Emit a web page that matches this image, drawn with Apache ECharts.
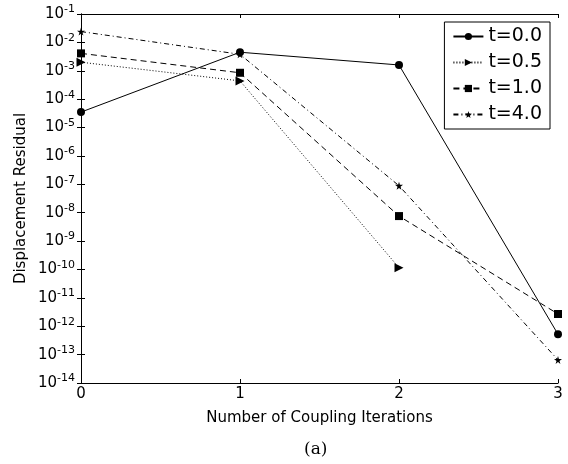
<!DOCTYPE html>
<html>
<head>
<meta charset="utf-8">
<script src="https://cdn.jsdelivr.net/npm/echarts@6/dist/echarts.min.js"></script>
<style>
  html, body { margin: 0; padding: 0; background: #fff; }
  #chart { width: 568px; height: 464px; }
</style>
</head>
<body>
<div id="chart"></div>
<script>
// 迭代次数
var iterations = [0, 1, 2, 3];
var xTicks = [0, 1, 2, 3];

// 各时刻的位移残差
var t00 = [3.5e-5, 4.5e-3, 1.6e-3, 5.2e-13];
var t05 = [2.0e-3, 4.4e-4, 1.15e-10];
var t10 = [4.1e-3, 8.5e-4, 7.6e-9, 2.7e-12];
var t40 = [2.4e-2, 3.8e-3, 8.9e-8, 6.5e-14];

var seriesNames = ["t=0.0", "t=0.5", "t=1.0", "t=4.0"];

var starPath = "path://M50,0 L61,35 L98,35 L68,57 L79,91 L50,70 L21,91 L32,57 L2,35 L39,35 Z";
var font = "DejaVu Sans";

function pairs(vals) {
  return vals.map(function (v, i) { return [iterations[i], v]; });
}

function supLabel(value) {
  var e = Math.round(Math.log10(value));
  return "{b|10}{s|" + e + "}";
}

var chart = echarts.init(document.getElementById("chart"));

var lineBase = { color: "#000", width: 1 };

chart.setOption({
  animation: false,
  backgroundColor: "#fff",
  textStyle: { fontFamily: font, color: "#000" },
  grid: { left: 81, right: 10, top: 14, bottom: 81 },
  legend: {
    orient: "vertical",
    right: 18,
    top: 22,
    data: seriesNames,
    borderColor: "#000",
    borderWidth: 1,
    padding: [5, 8, 5, 8],
    itemGap: 7,
    itemWidth: 30,
    itemHeight: 9,
    textStyle: { fontFamily: font, fontSize: 19, color: "#000" }
  },
  xAxis: [{
    type: "value",
    min: 0, max: 3, interval: 1,
    name: "Number of Coupling Iterations",
    nameLocation: "middle",
    nameGap: 28,
    nameTextStyle: { fontFamily: font, fontSize: 15, color: "#000" },
    axisLine: { show: true, lineStyle: { color: "#000" } },
    axisTick: { inside: true, length: 4, lineStyle: { color: "#000" } },
    axisLabel: { fontFamily: font, fontSize: 15, color: "#000", margin: 4,
      formatter: function (v) { return xTicks.indexOf(v) >= 0 ? String(v) : ""; } },
    splitLine: { show: false }
  }, {
    type: "value",
    position: "top",
    min: 0, max: 3, interval: 1,
    axisLine: { show: true, lineStyle: { color: "#000" } },
    axisTick: { inside: true, length: 4, lineStyle: { color: "#000" } },
    axisLabel: { show: false },
    splitLine: { show: false }
  }],
  yAxis: [{
    type: "log",
    logBase: 10,
    min: 1e-14, max: 1e-1,
    interval: 1,
    name: "Displacement Residual",
    nameLocation: "middle",
    nameGap: 52,
    nameMoveOverlap: false,
    nameTextStyle: { fontFamily: font, fontSize: 15, color: "#000" },
    axisLine: { show: true, lineStyle: { color: "#000" } },
    axisTick: { inside: true, length: 4, lineStyle: { color: "#000" } },
    axisLabel: {
      margin: 6,
      interval: 0,
      hideOverlap: false,
      showMinLabel: true,
      showMaxLabel: true,
      formatter: supLabel,
      rich: {
        b: { fontFamily: font, fontSize: 15, color: "#000" },
        s: { fontFamily: font, fontSize: 11, color: "#000", padding: [0, 0, 9, 0] }
      }
    },
    splitLine: { show: false }
  }, {
    type: "log",
    logBase: 10,
    position: "right",
    min: 1e-14, max: 1e-1,
    interval: 1,
    axisLine: { show: true, lineStyle: { color: "#000" } },
    axisTick: { inside: true, length: 4, lineStyle: { color: "#000" } },
    axisLabel: { show: false },
    splitLine: { show: false }
  }],
  series: [{
    name: seriesNames[0],
    type: "line",
    data: pairs(t00),
    symbol: "circle",
    symbolSize: 8,
    itemStyle: { color: "#000" },
    lineStyle: lineBase
  }, {
    name: seriesNames[1],
    type: "line",
    data: pairs(t05),
    symbol: "triangle",
    symbolRotate: -90,
    symbolSize: 9,
    itemStyle: { color: "#000" },
    lineStyle: { color: "#000", width: 1, type: [1, 2] }
  }, {
    name: seriesNames[2],
    type: "line",
    data: pairs(t10),
    symbol: "rect",
    symbolSize: 8,
    itemStyle: { color: "#000" },
    lineStyle: { color: "#000", width: 1, type: [6, 4] }
  }, {
    name: seriesNames[3],
    type: "line",
    data: pairs(t40),
    symbol: starPath,
    symbolSize: 8,
    itemStyle: { color: "#000" },
    lineStyle: { color: "#000", width: 1, type: [5, 3, 1, 3] }
  }],
  graphic: [{
    type: "text",
    left: 304,
    top: 441,
    style: { text: "(a)", fontFamily: "DejaVu Serif", fontSize: 17, fill: "#000" }
  }]
});
</script>
</body>
</html>
